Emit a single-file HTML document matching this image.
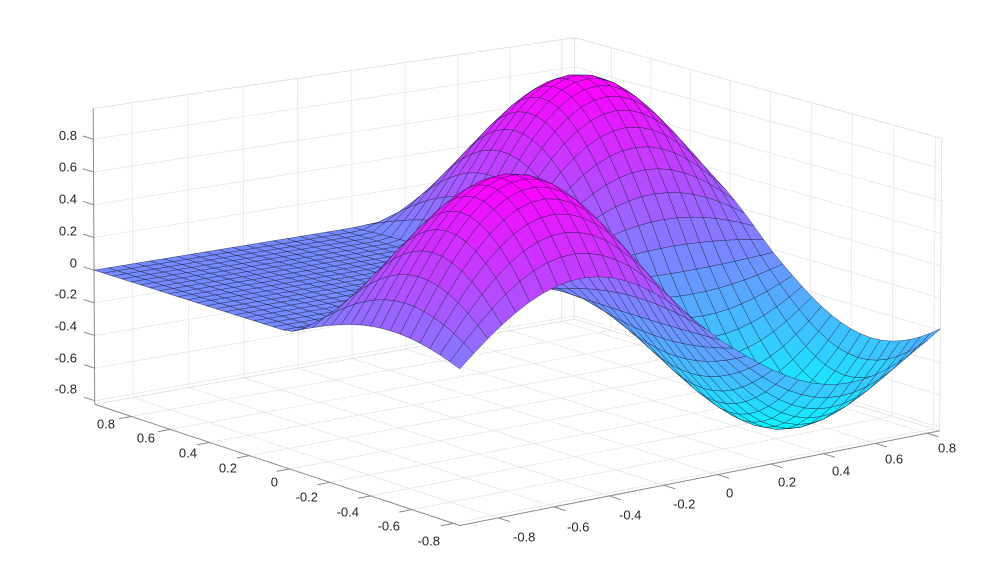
<!DOCTYPE html>
<html><head><meta charset="utf-8">
<style>
html,body{margin:0;padding:0;background:#fff;}
svg{display:block;}
text{font-family:"Liberation Sans",Arial,sans-serif;font-size:13px;fill:#262626;}
</style></head>
<body>
<svg id="s" width="1000" height="562" viewBox="0 0 1000 562" xmlns="http://www.w3.org/2000/svg">
<rect width="1000" height="562" fill="#fff"/>
<g id="grid"></g>
<g id="axes"></g>
<g id="surf"></g>
<g id="labels">
<text x="77" y="140" text-anchor="end">0.8</text>
<text x="77" y="171.5" text-anchor="end">0.6</text>
<text x="77" y="203.5" text-anchor="end">0.4</text>
<text x="77" y="235.5" text-anchor="end">0.2</text>
<text x="77" y="267.5" text-anchor="end">0</text>
<text x="77" y="298.5" text-anchor="end">-0.2</text>
<text x="77" y="330.5" text-anchor="end">-0.4</text>
<text x="77" y="362.5" text-anchor="end">-0.6</text>
<text x="77" y="393.5" text-anchor="end">-0.8</text>

<text x="115" y="428.5" text-anchor="end">0.8</text>
<text x="155" y="442.5" text-anchor="end">0.6</text>
<text x="197" y="457.5" text-anchor="end">0.4</text>
<text x="237" y="472.5" text-anchor="end">0.2</text>
<text x="278" y="486.5" text-anchor="end">0</text>
<text x="318" y="501.5" text-anchor="end">-0.2</text>
<text x="359" y="516.5" text-anchor="end">-0.4</text>
<text x="400" y="530.5" text-anchor="end">-0.6</text>
<text x="440" y="545.5" text-anchor="end">-0.8</text>

<text x="513" y="541.5">-0.8</text>
<text x="567" y="531.5">-0.6</text>
<text x="619" y="519.5">-0.4</text>
<text x="673" y="508.5">-0.2</text>
<text x="726" y="497.5">0</text>
<text x="778" y="486.5">0.2</text>
<text x="832" y="475.5">0.4</text>
<text x="885" y="463.5">0.6</text>
<text x="938" y="452.5">0.8</text>
</g>
</svg>
<script>
(function(){
var Amin=-0.83,Amax=0.99,Bmin=-0.937,Bmax=0.85,zmin=-0.822,zmax=0.987;
var corr=[
 [[Amax,Bmin,zmax],[93,111]],
 [[Amax,Bmin,zmin],[93,398]],
 [[Amin,Bmin,zmin],[463,531]],
 [[Amin,Bmax,zmin],[942,425]],
 [[Amin,Bmax,zmax],[942,137]],
 [[Amax,Bmax,zmax],[575,38]],
 [[Amax,Bmax,zmin],[575,325]],
 [[0,Bmin,zmin],[293,469.9]],
 [[Amin,0,zmin],[710,476]],
 [[Amax,Bmin,0],[93,267]]
];
var N=11,M=[],R=[];
for(var i=0;i<N;i++){var row=[];for(var j=0;j<N;j++)row.push(0);M.push(row);R.push(0);}
function add(r,b){for(var i=0;i<N;i++){R[i]+=r[i]*b;for(var j=0;j<N;j++)M[i][j]+=r[i]*r[j];}}
corr.forEach(function(c){
 var X=c[0][0],Y=c[0][1],Z=c[0][2];
 var u=(c[1][0]-500)/500,v=(c[1][1]-280)/500;
 add([X,Y,Z,1,0,0,0,0,-u*X,-u*Y,-u*Z],u);
 add([0,0,0,0,X,Y,Z,1,-v*X,-v*Y,-v*Z],v);
});
for(var k=0;k<N;k++){
 var piv=k;for(var i=k+1;i<N;i++)if(Math.abs(M[i][k])>Math.abs(M[piv][k]))piv=i;
 var t=M[k];M[k]=M[piv];M[piv]=t;t=R[k];R[k]=R[piv];R[piv]=t;
 for(var i=k+1;i<N;i++){var f=M[i][k]/M[k][k];for(var j=k;j<N;j++)M[i][j]-=f*M[k][j];R[i]-=f*R[k];}
}
var p=new Array(N);
for(var i=N-1;i>=0;i--){var s=R[i];for(var j=i+1;j<N;j++)s-=M[i][j]*p[j];p[i]=s/M[i][i];}
function P(A,B,z){
 var x=p[0]*A+p[1]*B+p[2]*z+p[3],y=p[4]*A+p[5]*B+p[6]*z+p[7],w=p[8]*A+p[9]*B+p[10]*z+1;
 return [x/w*500+500,y/w*500+280,w];
}
var sgn=(P(Amax,Bmax,zmin)[2]>P(Amin,Bmin,zmin)[2])?1:-1;
var NS="http://www.w3.org/2000/svg";
function el(g,name,attrs){var e=document.createElementNS(NS,name);for(var k in attrs)e.setAttribute(k,attrs[k]);g.appendChild(e);return e;}
function line(g,a,b,col,wd){var q1=P(a[0],a[1],a[2]),q2=P(b[0],b[1],b[2]);
 el(g,"line",{x1:q1[0].toFixed(2),y1:q1[1].toFixed(2),x2:q2[0].toFixed(2),y2:q2[1].toFixed(2),stroke:col,"stroke-width":wd});}
var G=document.getElementById("grid"),AX=document.getElementById("axes"),S=document.getElementById("surf");
var T=[-0.8,-0.6,-0.4,-0.2,0,0.2,0.4,0.6,0.8],gc="#e6e6e6",gw=0.8;
T.forEach(function(v){
 line(G,[v,Bmin,zmin],[v,Bmax,zmin],gc,gw);
 line(G,[Amin,v,zmin],[Amax,v,zmin],gc,gw);
 line(G,[Amax,v,zmin],[Amax,v,zmax],gc,gw);
 line(G,[Amax,Bmin,v],[Amax,Bmax,v],gc,gw);
 line(G,[v,Bmax,zmin],[v,Bmax,zmax],gc,gw);
 line(G,[Amin,Bmax,v],[Amax,Bmax,v],gc,gw);
});
var bc="#dcdcdc";
line(G,[Amax,Bmax,zmin],[Amax,Bmax,zmax],bc,0.8);
line(G,[Amax,Bmin,zmax],[Amax,Bmax,zmax],bc,0.8);
line(G,[Amin,Bmax,zmax],[Amax,Bmax,zmax],bc,0.8);
line(G,[Amin,Bmax,zmin],[Amin,Bmax,zmax],bc,0.8);
line(G,[Amax,Bmax,zmin],[Amax,Bmin,zmin],bc,0.8);
line(G,[Amax,Bmax,zmin],[Amin,Bmax,zmin],bc,0.8);
var ac="#8a8a8a";
line(AX,[Amax,Bmin,zmin],[Amax,Bmin,zmax],ac,1);
line(AX,[Amax,Bmin,zmin],[Amin,Bmin,zmin],ac,1);
line(AX,[Amin,Bmin,zmin],[Amin,Bmax,zmin],ac,1);
T.forEach(function(v){
 line(AX,[Amax,Bmin,v],[Amax+0.055,Bmin,v],ac,1);
 line(AX,[v,Bmin,zmin],[v,Bmin-0.045,zmin],ac,1);
 line(AX,[Amin,v,zmin],[Amin-0.055,v,zmin],ac,1);
});
try{
function fz(A,B){
 if(A>0&&B<0)return 0;
 var s=Math.sin(Math.PI*A)*Math.sin(Math.PI*B);
 if(s<0)s*=0.82;
 return s;
}
var nA=38,nB=36,pts=[];
for(var i=0;i<=nA;i++){var rowp=[];for(var j=0;j<=nB;j++){
 var A=Amin+i*(Amax-Amin)/nA,B=Bmin+j*(Bmax-Bmin)/nB,z=fz(A,B);
 var q=P(A,B,z);rowp.push({x:q[0],y:q[1],w:q[2],z:z});}pts.push(rowp);}
var quads=[];
for(var i=0;i<nA;i++)for(var j=0;j<nB;j++){
 var c=[pts[i][j],pts[i+1][j],pts[i+1][j+1],pts[i][j+1]];
 var d=0,zz=0;for(var k2=0;k2<4;k2++){d+=c[k2].w*sgn;zz+=c[k2].z;}
 quads.push({c:c,d:d/4,z:zz/4});
}
quads.sort(function(a,b){return b.d-a.d;});
for(var qi=0;qi<quads.length;qi++){
 var q=quads[qi];
 var tt=(q.z-zmin)/(zmax-zmin);tt=Math.max(0,Math.min(1,tt));
 var r=Math.round(255*tt),g=Math.round(255*(1-tt));
 var ps="";for(var k3=0;k3<4;k3++)ps+=q.c[k3].x.toFixed(2)+","+q.c[k3].y.toFixed(2)+" ";
 el(S,"polygon",{points:ps,fill:"rgb("+r+","+g+",255)",stroke:"#1e1e3c","stroke-opacity":"0.8","stroke-width":"0.5","stroke-linejoin":"round"});
}
}catch(e){}
})();
</script>
</body></html>
